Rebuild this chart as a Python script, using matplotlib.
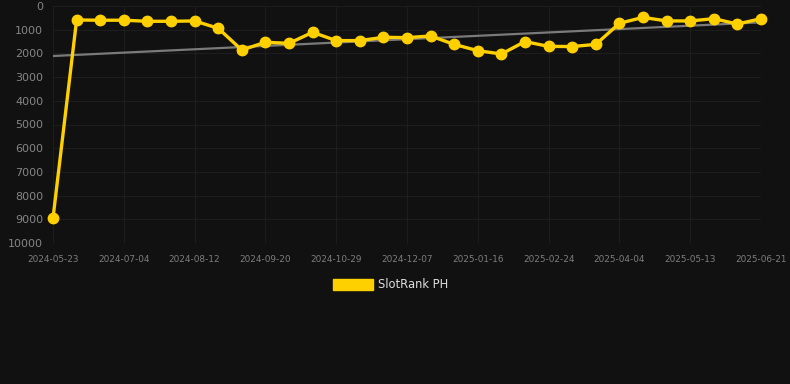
import matplotlib
matplotlib.use("Agg")
import matplotlib.pyplot as plt
import numpy as np

tick_labels = ["2024-05-23", "2024-07-04", "2024-08-12", "2024-09-20", "2024-10-29",
               "2024-12-07", "2025-01-16", "2025-02-24", "2025-04-04", "2025-05-13", "2025-06-21"]
ranks = [8950, 590, 600, 600, 645, 645, 630, 940, 1857, 1530, 1575, 1110, 1460, 1460,
         1320, 1335, 1265, 1620, 1885, 2025, 1500, 1705, 1710, 1620, 730, 480, 630, 630,
         535, 760, 535]
trend_ends = [2110, 690]
series_name = "SlotRank PH"

bg = "#111111"
fig = plt.figure(figsize=(7.9, 3.84), dpi=100, facecolor=bg)
ax = fig.add_axes([53/790, 1-243/384, (761-53)/790, (243-6)/384], facecolor=bg)

x = np.arange(len(ranks))
ax.plot([x[0], x[-1]], trend_ends, color="#7a7a7a", lw=1.6, zorder=2)
ax.plot(x, ranks, color="#FFD000", lw=2.4, marker="o", ms=7.5, zorder=3,
        solid_joinstyle="round", clip_on=False)

ax.set_ylim(10000, 0)
ax.set_xlim(0, len(ranks)-1)
ax.set_yticks(np.arange(0, 10001, 1000))
ax.set_xticks(x[::3])
ax.set_xticklabels(tick_labels)
ax.tick_params(axis="y", colors="#858585", labelsize=8, length=0, pad=7)
ax.tick_params(axis="x", colors="#7d7d7d", labelsize=6.4, length=0, pad=9)
ax.grid(True, color="#1d1d1d", lw=0.8)
for s in ax.spines.values():
    s.set_visible(False)

fig.patches.append(plt.Rectangle((333/790, 1-290/384), 40/790, 11/384,
                                 transform=fig.transFigure, color="#FFD000"))
fig.text(378/790, 1-285/384, series_name, color="#dddddd", fontsize=8.3, va="center", ha="left")

fig.savefig("out.png", dpi=100, facecolor=bg)
